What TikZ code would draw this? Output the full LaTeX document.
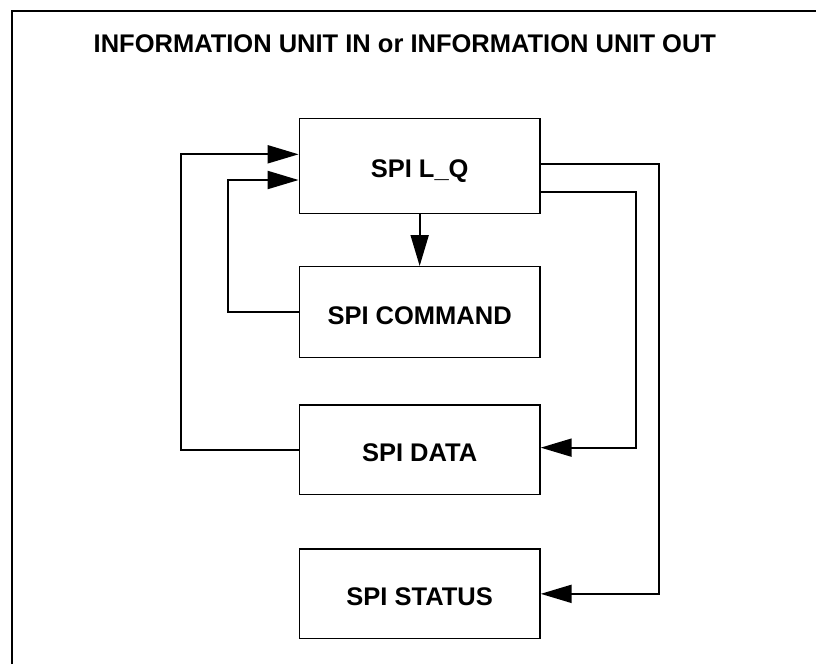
\documentclass[tikz,border=0pt]{standalone}
\usepackage{fontspec}
\setmainfont{Liberation Sans}
\usetikzlibrary{arrows.meta}
\begin{document}
\begin{tikzpicture}[x=1pt,y=-1pt,
  boxnode/.style={draw=black, line width=1.4pt, minimum width=240.7pt, inner sep=0pt,
    font=\fontsize{25.5}{30}\selectfont\bfseries, text height=24.26pt, text depth=0pt},
  conn/.style={line width=2pt},
  arr/.style={conn, -{Triangle[length=31pt,width=18pt]}}]
\useasboundingbox (0,0) rectangle (816,664);
% frame (cut at right and bottom)
\draw[line width=2pt] (12,664) -- (12,11) -- (816,11);
\node[anchor=base west, inner sep=0pt, font=\fontsize{25.5}{30}\selectfont\bfseries] (title) at (93.5,52.7) {INFORMATION UNIT IN or INFORMATION UNIT OUT};
% boxes
\node[boxnode, minimum height=95pt] (lq) at (419.65,165.8) {SPI L\_Q};
\node[boxnode, minimum height=91pt] (cmd) at (419.65,312.2) {SPI COMMAND};
\node[boxnode, minimum height=89.3pt] (data) at (419.65,449.65) {SPI DATA};
\node[boxnode, minimum height=89.7pt] (status) at (419.65,593.85) {SPI STATUS};
% bend points
\coordinate (cmdL) at (228.3,312.2);
\coordinate (dataL) at (180.5,449.65);
\coordinate (outA) at (659.3,164.3);
\coordinate (outB) at (635.7,192.3);
% connectors
\draw[arr] (lq.south) -- (cmd.north);
\draw[arr] (cmd.west) -- (cmdL) |- ([yshift=-14.2pt]lq.west);
\draw[arr] (data.west) -- (dataL) |- ([yshift=11.5pt]lq.west);
\draw[arr] ([yshift=1.5pt]lq.east) -- (outA) |- (status.east);
\draw[arr] ([yshift=-26.5pt]lq.east) -- (outB) |- ([yshift=2pt]data.east);
\end{tikzpicture}
\end{document}
